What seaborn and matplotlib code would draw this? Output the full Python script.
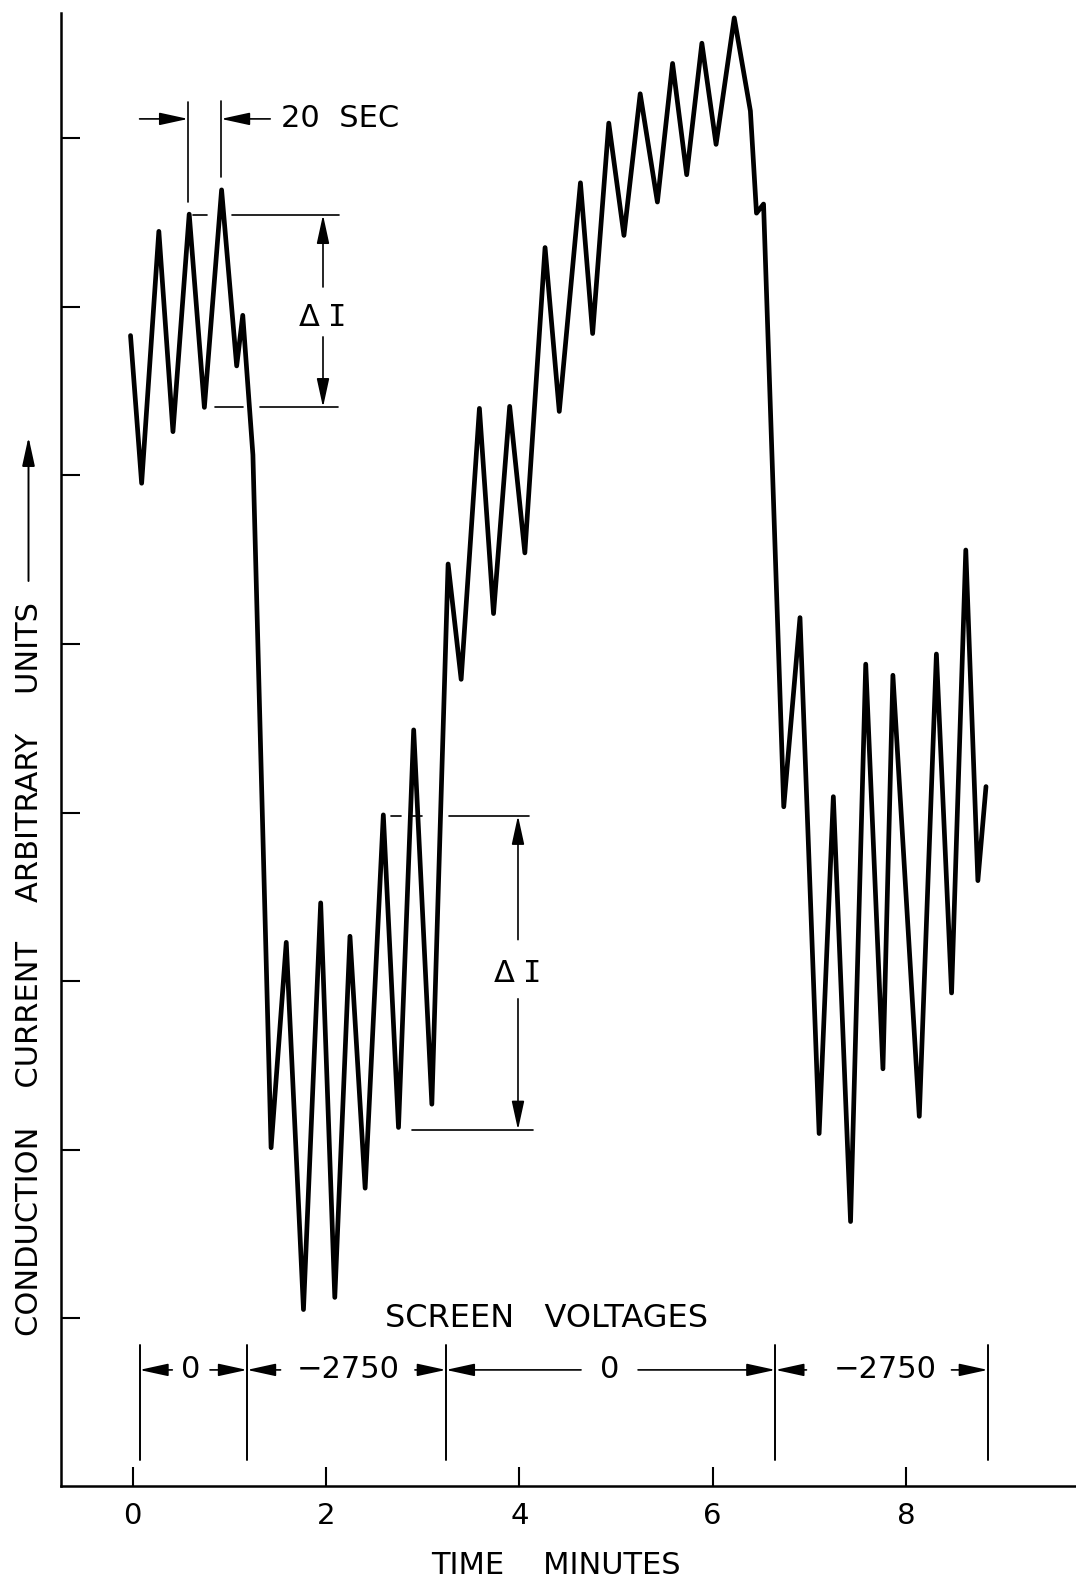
import numpy as np
import pandas as pd
import matplotlib
matplotlib.use("Agg")
import matplotlib.pyplot as plt
import seaborn as sns

# ---------------- data ----------------
time_min = [-0.022, 0.093, 0.271, 0.417, 0.585, 0.742, 0.920, 1.076, 1.139, 1.244,
            1.432, 1.589, 1.767, 1.945, 2.091, 2.248, 2.405, 2.593, 2.750, 2.907,
            3.095, 3.263, 3.398, 3.587, 3.733, 3.900, 4.057, 4.266, 4.413, 4.632,
            4.758, 4.925, 5.082, 5.250, 5.428, 5.585, 5.731, 5.888, 6.035, 6.223,
            6.390, 6.453, 6.526, 6.735, 6.903, 7.101, 7.248, 7.426, 7.583, 7.761,
            7.864, 8.137, 8.314, 8.471, 8.618, 8.743, 8.827]
current = [5.830, 4.954, 6.448, 5.260, 6.550, 5.404, 6.694, 5.650, 5.950, 5.122,
           1.013, 2.231, 0.053, 2.465, 0.125, 2.267, 0.773, 2.987, 1.133, 3.491,
           1.271, 4.475, 3.791, 5.398, 4.181, 5.410, 4.541, 6.352, 5.380, 6.736,
           5.842, 7.090, 6.424, 7.264, 6.622, 7.444, 6.784, 7.564, 6.964, 7.714,
           7.162, 6.556, 6.610, 3.035, 4.157, 1.097, 3.095, 0.575, 3.881, 1.481,
           3.815, 1.199, 3.941, 1.931, 4.558, 2.597, 3.155]

x_ticks = [0, 2, 4, 6, 8]
x_tick_labels = ["0", "2", "4", "6", "8"]
y_ticks = [0, 1, 2, 3, 4, 5, 6, 7]

# screen voltage segments: boundaries and labels
sv_bounds = [0.071, 1.183, 3.24, 6.648, 8.846]
sv_labels = ["0", "\u22122750", "0", "\u22122750"]
sv_label_x = [0.60, 2.23, 4.933, 7.78]
sv_tail_left = [0.41, 1.53, 4.638, 6.97]
sv_tail_right = [0.80, 2.92, 5.228, 8.47]

# ---------------- style ----------------
sns.set_style("ticks")
plt.rcParams["font.family"] = ["DejaVu Sans"]
plt.rcParams["text.color"] = "black"

fig = plt.figure(figsize=(10.76, 15.86), dpi=100)
ax = fig.add_axes([0.0567, 0.0629, 1 - 0.0567, 0.992 - 0.0629])

df = pd.DataFrame({"time": time_min, "current": current})
sns.lineplot(data=df, x="time", y="current", ax=ax, color="black",
             linewidth=3.4, sort=False, estimator=None)

ax.set_xlim(-0.741, 9.758)
ax.set_ylim(-0.995, 7.745)
ax.set_xticks(x_ticks)
ax.set_xticklabels(x_tick_labels)
ax.set_yticks(y_ticks)
ax.set_yticklabels([])
ax.tick_params(axis="both", direction="in", length=13.5, width=1.5,
               labelsize=21, pad=11, color="black", labelcolor="black")
ax.set_xlabel("")
ax.set_ylabel("")
for s in ["top", "right"]:
    ax.spines[s].set_visible(False)
for s in ["left", "bottom"]:
    ax.spines[s].set_linewidth(1.8)
    ax.spines[s].set_color("black")

arrow_kw = dict(arrowstyle="-|>,head_length=1.1,head_width=0.24",
                mutation_scale=16, lw=1.2, color="black",
                shrinkA=0, shrinkB=0)


def arrow(x0, y0, x1, y1):
    ax.annotate("", xy=(x1, y1), xytext=(x0, y0), arrowprops=arrow_kw)


def delta_i(x, y):
    ax.annotate("\u0394", xy=(x, y), xytext=(-10, 0), textcoords="offset points",
                fontsize=22, ha="center", va="center")
    ax.annotate("I", xy=(x, y), xytext=(10, 0), textcoords="offset points",
                fontsize=22, ha="center", va="center",
                family=["DejaVu Sans Mono"])


FS = 22

# ---- 20 SEC marker ----
ax.plot([0.574, 0.574], [6.623, 7.216], color="black", lw=1.2)
ax.plot([0.914, 0.914], [6.771, 7.222], color="black", lw=1.2)
arrow(0.072, 7.115, 0.574, 7.115)
arrow(1.423, 7.115, 0.914, 7.115)
ax.text(1.535, 7.115, "20  SEC", fontsize=FS, ha="left", va="center")

# ---- upper delta I ----
ax.plot([0.62, 0.77], [6.546, 6.546], color="black", lw=1.2)
ax.plot([1.03, 2.135], [6.546, 6.546], color="black", lw=1.2)
ax.plot([0.853, 1.14], [5.405, 5.405], color="black", lw=1.2)
ax.plot([1.318, 2.12], [5.405, 5.405], color="black", lw=1.2)
arrow(1.969, 6.118, 1.969, 6.546)
arrow(1.969, 5.822, 1.969, 5.405)
delta_i(1.975, 5.94)

# ---- lower delta I ----
ax.plot([2.67, 2.78], [2.982, 2.982], color="black", lw=1.2)
ax.plot([2.88, 2.99], [2.982, 2.982], color="black", lw=1.2)
ax.plot([3.275, 4.105], [2.982, 2.982], color="black", lw=1.2)
ax.plot([2.885, 4.14], [1.119, 1.119], color="black", lw=1.2)
arrow(3.986, 2.247, 3.986, 2.982)
arrow(3.986, 1.896, 3.986, 1.119)
delta_i(3.99, 2.044)

# ---- screen voltages ----
ax.text(4.28, 0.0, "SCREEN   VOLTAGES", fontsize=23, ha="center", va="center")
for b in sv_bounds:
    ax.plot([b, b], [-0.16, -0.84], color="black", lw=1.4)
y_row = -0.305
for i, lab in enumerate(sv_labels):
    ax.text(sv_label_x[i], y_row, lab, fontsize=FS, ha="center", va="center")
    arrow(sv_tail_left[i], y_row, sv_bounds[i], y_row)
    arrow(sv_tail_right[i], y_row, sv_bounds[i + 1], y_row)

# ---- axis titles ----
fig.text(556 / 1076, 1 - 1566 / 1586, "TIME    MINUTES", fontsize=FS,
         ha="center", va="center")
fig.text(30 / 1076, 1 - 969 / 1586,
         "CONDUCTION    CURRENT    ARBITRARY    UNITS",
         fontsize=FS, rotation=90, ha="center", va="center")
fig.patches.append(matplotlib.patches.FancyArrowPatch(
    (28.5 / 1076, 1 - 581 / 1586), (28.5 / 1076, 1 - 437 / 1586),
    transform=fig.transFigure, arrowstyle="-|>,head_length=1.1,head_width=0.24",
    mutation_scale=16, lw=1.4, color="black", shrinkA=0, shrinkB=0))

fig.savefig("out.png", dpi=100, facecolor="white")
